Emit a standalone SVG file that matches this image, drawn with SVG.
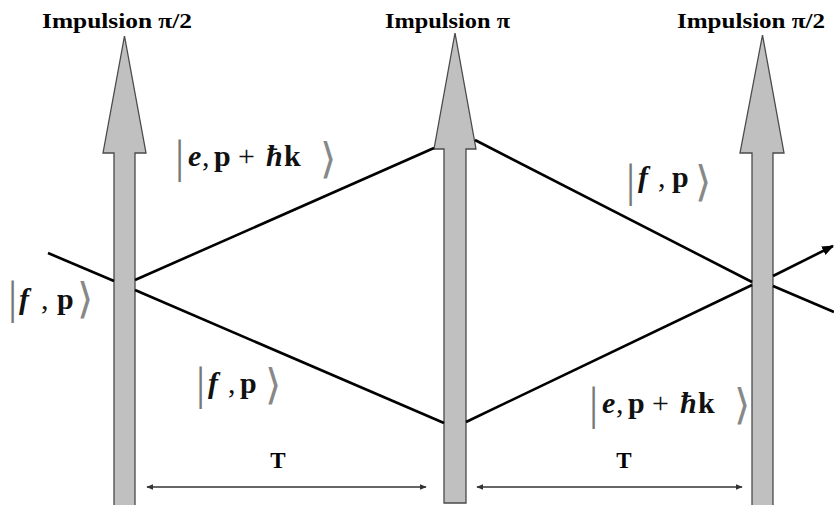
<svg xmlns="http://www.w3.org/2000/svg" width="834" height="505" viewBox="0 0 834 505">
<defs>
<style>
.pulse{fill:#c0c0c0;stroke:#4a4a4a;stroke-width:1.3}
.path{stroke:#000;stroke-width:2.6;fill:none}
.dim{stroke:#333;stroke-width:1.3;fill:none}
.title{font-family:"Liberation Serif","Times New Roman",serif;font-weight:bold;font-size:22px;fill:#000}
.m{font-family:"Liberation Serif","Times New Roman",serif;font-size:30px;fill:#111}
.it{font-style:italic;font-weight:bold}
.bf{font-weight:bold}
.delim{font-family:"Liberation Serif",serif;font-size:46px;fill:#777}
.ang{font-family:"DejaVu Sans",sans-serif;font-size:42px;fill:#888}
.T{font-family:"Liberation Serif",serif;font-weight:bold;font-size:23px;fill:#000}
</style>
<marker id="ah" viewBox="0 0 10 10" refX="9" refY="5" markerWidth="7" markerHeight="7" orient="auto-start-reverse" markerUnits="userSpaceOnUse">
<path d="M0,1 L10,5 L0,9 Z" fill="#333"/>
</marker>
<marker id="ahBig" viewBox="0 0 10 10" refX="9" refY="5" markerWidth="12" markerHeight="12" orient="auto" markerUnits="userSpaceOnUse">
<path d="M0,1 L10,5 L0,9 Z" fill="#000"/>
</marker>
</defs>
<rect width="834" height="505" fill="#fff"/>

<g id="pulse-left">
<polygon class="pulse" points="124.5,36 146,153 135,153 135,506 114,506 114,153 103,153"/>
<text class="title" x="42" y="28" textLength="150" lengthAdjust="spacingAndGlyphs">Impulsion π/2</text>
</g>
<g id="pulse-middle">
<polygon class="pulse" points="455,33 476,149 466,149 466,503 444,503 444,149 434,149"/>
<text class="title" x="385" y="28" textLength="125" lengthAdjust="spacingAndGlyphs">Impulsion π</text>
</g>
<g id="pulse-right">
<polygon class="pulse" points="762.5,35 784,153 773,153 773,506 752,506 752,153 740,153"/>
<text class="title" x="677" y="28" textLength="148" lengthAdjust="spacingAndGlyphs">Impulsion π/2</text>
</g>

<g id="connectors">
<line class="path" x1="48" y1="253" x2="114" y2="281"/>
<line class="path" x1="135" y1="280" x2="434" y2="148"/>
<line class="path" x1="135" y1="290" x2="444" y2="423"/>
<line class="path" x1="475" y1="140" x2="752" y2="282"/>
<line class="path" x1="466" y1="422" x2="752" y2="285"/>
<line class="path" x1="773" y1="276" x2="833" y2="246" marker-end="url(#ahBig)"/>
<line class="path" x1="773" y1="286" x2="834" y2="312"/>
<line class="dim" x1="147" y1="487" x2="426" y2="487" marker-start="url(#ah)" marker-end="url(#ah)"/>
<line class="dim" x1="477" y1="487" x2="742" y2="487" marker-start="url(#ah)" marker-end="url(#ah)"/>
</g>

<g id="ket-e-top">
<text class="delim" x="175" y="172">|</text>
<text class="m" y="166"><tspan class="it" x="188">e</tspan><tspan x="202">,</tspan><tspan class="bf" x="214">p</tspan><tspan x="238">+</tspan><tspan class="it" x="266">ħ</tspan><tspan class="bf" x="284">k</tspan></text>
<text class="ang" x="320" y="173">⟩</text>
</g>
<g id="ket-f-topright">
<text class="delim" x="626" y="196">|</text>
<text class="m" y="187"><tspan class="it" x="638">f</tspan><tspan x="658">,</tspan><tspan class="bf" x="672">p</tspan></text>
<text class="ang" x="695" y="196">⟩</text>
</g>
<g id="ket-f-left">
<text class="delim" x="8" y="313">|</text>
<text class="m" y="309"><tspan class="it" x="19">f</tspan><tspan x="41">,</tspan><tspan class="bf" x="57">p</tspan></text>
<text class="ang" x="77" y="313">⟩</text>
</g>
<g id="ket-f-bottom">
<text class="delim" x="196" y="399">|</text>
<text class="m" y="393"><tspan class="it" x="208">f</tspan><tspan x="228">,</tspan><tspan class="bf" x="240">p</tspan></text>
<text class="ang" x="265" y="399">⟩</text>
</g>
<g id="ket-e-bottom">
<text class="delim" x="589" y="419">|</text>
<text class="m" y="413"><tspan class="it" x="602">e</tspan><tspan x="616">,</tspan><tspan class="bf" x="628">p</tspan><tspan x="652">+</tspan><tspan class="it" x="680">ħ</tspan><tspan class="bf" x="698">k</tspan></text>
<text class="ang" x="734" y="419">⟩</text>
</g>

<g id="dim-labels">
<text class="T" x="278" y="468" text-anchor="middle">T</text>
<text class="T" x="624" y="468" text-anchor="middle">T</text>
</g>
</svg>
